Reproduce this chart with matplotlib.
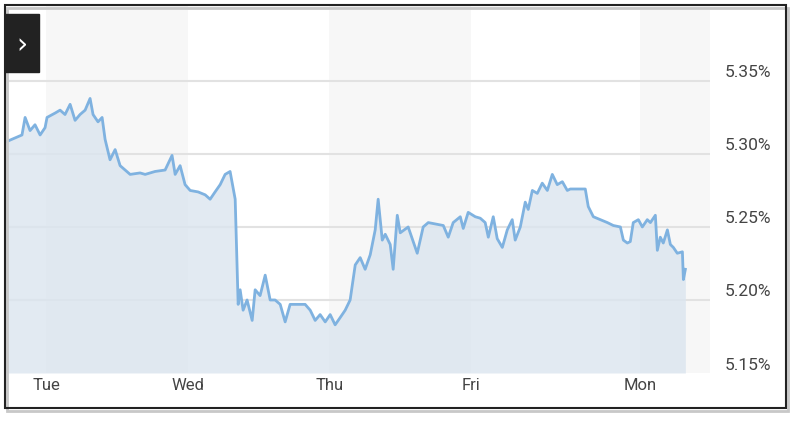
import matplotlib
matplotlib.use("Agg")
import matplotlib.pyplot as plt
import matplotlib.transforms as mtransforms
from matplotlib.patches import Rectangle

# time in trading days (Tue = 0), yield in %
days = [-0.29,-0.17,-0.148,-0.113,-0.078,-0.042,-0.007,0.007,0.064,0.099,0.134,0.170,0.205,0.240,0.276,0.311,0.332,0.367,0.396,0.417,
        0.452,0.488,0.523,0.558,0.594,0.664,0.700,0.770,0.841,0.890,0.912,0.947,0.982,1.018,1.074,1.124,1.159,1.194,1.230,1.265,
        1.300,1.336,1.357,1.371,1.392,1.420,1.456,1.477,1.512,1.548,1.583,1.618,1.654,1.689,1.724,1.830,1.866,1.901,1.936,1.972,
        2.007,2.042,2.078,2.113,2.148,2.184,2.219,2.254,2.290,2.325,2.346,2.375,2.396,2.431,2.452,2.481,2.502,2.558,2.622,2.664,
        2.700,2.806,2.841,2.876,2.926,2.947,2.982,3.032,3.067,3.102,3.124,3.159,3.187,3.223,3.258,3.293,3.314,3.350,3.385,3.406,
        3.435,3.470,3.505,3.541,3.576,3.611,3.647,3.682,3.703,3.809,3.830,3.866,3.915,3.965,4.007,4.057,4.078,4.106,4.127,4.148,
        4.184,4.212,4.247,4.269,4.304,4.318,4.339,4.360,4.389,4.410,4.431,4.459,4.495,4.502,4.516]
yields = [5.308,5.313,5.325,5.316,5.320,5.313,5.318,5.325,5.328,5.330,5.327,5.334,5.323,5.327,5.330,5.338,5.327,5.322,5.325,5.310,
          5.296,5.303,5.292,5.289,5.286,5.287,5.286,5.288,5.289,5.299,5.286,5.292,5.279,5.275,5.274,5.272,5.269,5.274,5.279,5.286,
          5.288,5.269,5.197,5.207,5.193,5.200,5.186,5.207,5.203,5.217,5.200,5.200,5.197,5.185,5.197,5.197,5.193,5.186,5.190,5.185,
          5.190,5.183,5.188,5.193,5.200,5.224,5.229,5.221,5.231,5.248,5.269,5.241,5.245,5.238,5.221,5.258,5.246,5.250,5.232,5.250,
          5.253,5.251,5.243,5.253,5.257,5.249,5.260,5.257,5.256,5.253,5.243,5.257,5.242,5.236,5.248,5.255,5.241,5.250,5.267,5.262,
          5.275,5.273,5.280,5.275,5.286,5.279,5.281,5.275,5.276,5.276,5.264,5.257,5.255,5.253,5.251,5.250,5.241,5.239,5.240,5.253,
          5.255,5.250,5.255,5.253,5.258,5.234,5.243,5.239,5.248,5.238,5.236,5.232,5.233,5.214,5.221]
tick_pos = [0, 1, 2, 3, 4.198]
tick_labels = ["Tue", "Wed", "Thu", "Fri", "Mon"]
y_ticks = [5.15, 5.20, 5.25, 5.30, 5.35]
y_labels = ["5.15%", "5.20%", "5.25%", "5.30%", "5.35%"]

plt.rcParams['font.family'] = ['Roboto', 'DejaVu Sans']
fig = plt.figure(figsize=(8, 4.22), dpi=100)
ax = fig.add_axes([5/800, 1-373/422, 705/800, 368/422])
x0, x1 = -0.29, 4.69
y0, y1 = 5.15, 5.402
ax.set_xlim(x0, x1)
ax.set_ylim(y0, y1)

bands = [(0, 1), (2, 3), (4.198, x1)]
for a, b in bands:
    ax.axvspan(a, b, color="#f7f7f7", zorder=0, lw=0)
for t in y_ticks[1:]:
    ax.axhline(t, color="#e2e2e2", lw=1.5, zorder=1)
ax.fill_between(days, yields, y0, color="#dbe5ef", alpha=0.8, zorder=2, lw=0)
ax.plot(days, yields, color="#7fb2e0", lw=2, zorder=3)

for s in ax.spines.values():
    s.set_visible(False)
ax.set_xticks([]); ax.set_yticks([])

for p, l in zip(tick_pos, tick_labels):
    ax.text(p, -0.033, l, transform=mtransforms.blended_transform_factory(ax.transData, ax.transAxes),
            ha="center", va="center", fontsize=12, color="#444444")
off = mtransforms.offset_copy(mtransforms.blended_transform_factory(ax.transAxes, ax.transData), fig=fig, x=0, y=8, units="dots")
for t, l in zip(y_ticks, y_labels):
    ax.text(1.054, t, l, transform=off, ha="center", va="center", fontsize=12.5, color="#444444")

fig.patches.append(Rectangle((7/800, 1-411/422), 781/800, 403/422, transform=fig.transFigure,
                             fill=False, ec="#c8c8c8", lw=2, zorder=0))
fig.patches.append(Rectangle((5/800, 1-408/422), 781/800, 403/422, transform=fig.transFigure,
                             fill=False, ec="#222222", lw=1.5, zorder=10))
fig.patches.append(Rectangle((5/800, 1-72/422), 34/800, 58/422, transform=fig.transFigure,
                             color="#222222", zorder=10))
fig.text(22/800, 1-45/422, "›", color="white", fontsize=20, ha="center", va="center", zorder=11,
         family=["DejaVu Sans"])

fig.savefig("out.png", dpi=100)
